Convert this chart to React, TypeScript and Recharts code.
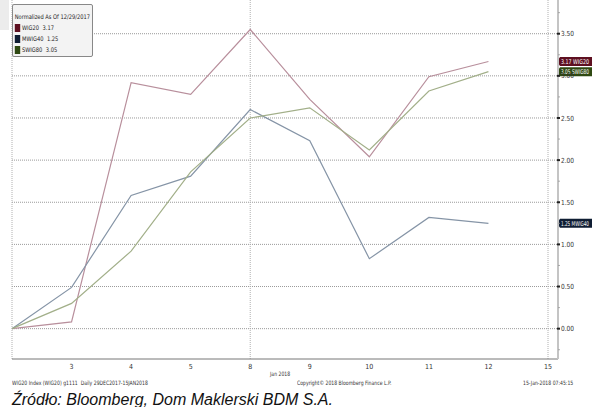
import { LineChart, Line, XAxis, YAxis, CartesianGrid, ReferenceLine } from 'recharts'

// trading days, first one is the base day 12/29/2017
const days = ['29', '3', '4', '5', '8', '9', '10', '11', '12', '15']
const series = ['WIG20', 'MWIG40', 'SWIG80']
const wig20 = [0, 0.08, 2.92, 2.78, 3.55, 2.72, 2.04, 2.99, 3.17, null]
const mwig40 = [0, 0.49, 1.58, 1.81, 2.6, 2.23, 0.83, 1.32, 1.25, null]
const swig80 = [0, 0.3, 0.92, 1.86, 2.5, 2.62, 2.12, 2.82, 3.05, null]
const lastValues = [3.17, 1.25, 3.05]
const yTicks = [-0.25, 0, 0.25, 0.5, 0.75, 1, 1.25, 1.5, 1.75, 2, 2.25, 2.5, 2.75, 3, 3.25, 3.5, 3.75]
const yMajor = [0, 0.5, 1, 1.5, 2, 2.5, 3, 3.5]
const weekLines = ['29', '8', '15']

const lineColors = ['#b88f9c', '#8594a6', '#a2af89']
const tagColors = ['#5e1021', '#0f1d33', '#2f4912']

const data = days.map((d, i) => ({
  day: d,
  WIG20: wig20[i],
  MWIG40: mwig40[i],
  SWIG80: swig80[i],
}))

const narrow = '"DejaVu Sans Condensed", "Liberation Sans Narrow", "Liberation Sans", sans-serif'

function XTick({ x, y, payload, index }: any) {
  if (index === 0) return null
  return (
    <text x={x} y={y + 10} textAnchor="middle" fontSize={7} fontFamily={narrow} fill="#333">
      {payload.value}
    </text>
  )
}

function YTick({ x, y, payload }: any) {
  const major = yMajor.includes(payload.value)
  if (!major) {
    return <line x1={x} x2={x + 2} y1={y} y2={y} stroke="#999" strokeWidth={0.8} />
  }
  return (
    <g>
      <rect x={x - 1} y={y - 1} width={3} height={2} fill="#222" />
      <text x={x + 3} y={y + 2.6} fontSize={7} fontFamily={narrow} fill="#333" textLength={13} lengthAdjust="spacingAndGlyphs">
        {payload.value.toFixed(2)}
      </text>
    </g>
  )
}

function ValueTag({ viewBox, text, color }: any) {
  const x0 = viewBox.x + viewBox.width - 1
  const y0 = viewBox.y
  const w = 35
  const h = 9
  return (
    <g>
      <path
        d={`M${x0},${y0} L${x0 + 3},${y0 - h / 2} L${x0 + w},${y0 - h / 2} L${x0 + w},${y0 + h / 2} L${x0 + 3},${y0 + h / 2} Z`}
        fill={color}
      />
      <text
        x={x0 + 4}
        y={y0 + 2.3}
        fontSize={6.5}
        fontFamily={narrow}
        fill="#fff"
        textLength={w - 7}
        lengthAdjust="spacingAndGlyphs"
      >
        {text}
      </text>
    </g>
  )
}

const small = { fontFamily: narrow, fontSize: 6, color: '#333', whiteSpace: 'pre' as const, transformOrigin: 'left top' }

export default function App() {
  return (
    <div style={{ position: 'absolute', left: 0, top: 0, width: 597, height: 407, background: '#fff', overflow: 'hidden' }}>
      <div style={{ position: 'absolute', left: 0, top: 0, width: 9, height: 30, background: '#ececec' }} />
      <LineChart width={597} height={407} data={data} margin={{ top: 0, right: 0, bottom: 28, left: 12 }}>
        <CartesianGrid vertical={false} horizontalValues={yMajor} stroke="#9a9a9a" strokeDasharray="1 1" />
        {weekLines.map((d) => (
          <ReferenceLine key={d} x={d} stroke="#b0b0b0" strokeDasharray="1 1" />
        ))}
        <XAxis
          dataKey="day"
          interval={0}
          padding={{ left: 0, right: 10 }}
          height={20}
          tickSize={0}
          tickMargin={0}
          tickLine={false}
          axisLine={{ stroke: '#777', strokeWidth: 1 }}
          tick={<XTick />}
        />
        <YAxis
          orientation="right"
          width={39}
          domain={[-0.36, 3.9]}
          allowDataOverflow
          ticks={yTicks}
          interval={0}
          tickSize={0}
          tickMargin={0}
          tickLine={false}
          axisLine={{ stroke: '#c4c4c4', strokeWidth: 2 }}
          tick={<YTick />}
        />
        {series.map((s, i) => (
          <Line
            key={s}
            type="linear"
            dataKey={s}
            stroke={lineColors[i]}
            strokeWidth={1.2}
            dot={false}
            activeDot={false}
            isAnimationActive={false}
          />
        ))}
        {series.map((s, i) => (
          <ReferenceLine
            key={'tag' + s}
            y={lastValues[i]}
            stroke="none"
            ifOverflow="visible"
            label={<ValueTag text={`${lastValues[i].toFixed(2)} ${s}`} color={tagColors[i]} />}
          />
        ))}
      </LineChart>

      <div
        style={{
          position: 'absolute',
          left: 12,
          top: 4,
          width: 81,
          height: 53,
          border: '1px solid #888',
          borderRadius: 2,
          background: '#f3f3f3',
          boxSizing: 'border-box',
          overflow: 'hidden',
        }}
      >
        <div
          style={{
            fontFamily: narrow,
            fontSize: 6.3,
            color: '#222',
            lineHeight: '11px',
            padding: '6px 0 0 2px',
            whiteSpace: 'nowrap',
            transform: 'scaleX(0.9)',
            transformOrigin: 'left top',
          }}
        >
          <div>Normalized As Of 12/29/2017</div>
          {series.map((s, i) => (
            <div key={s} style={{ display: 'flex', alignItems: 'center' }}>
              <span style={{ display: 'inline-block', width: 6, height: 8, background: tagColors[i], marginRight: 2 }} />
              <span style={{ marginRight: 4 }}>{s}</span>
              <span>{lastValues[i].toFixed(2)}</span>
            </div>
          ))}
        </div>
      </div>

      <div style={{ ...small, position: 'absolute', left: 270, top: 370, transform: 'scaleX(0.85)' }}>Jan 2018</div>
      <div style={{ ...small, position: 'absolute', left: 12, top: 379, transform: 'scaleX(0.85)' }}>
        {'WIG20 Index (WIG20) g1111  Daily 29DEC2017-15JAN2018'}
      </div>
      <div style={{ ...small, position: 'absolute', left: 297, top: 379, transform: 'scaleX(0.85)' }}>
        Copyright© 2018 Bloomberg Finance L.P.
      </div>
      <div style={{ ...small, position: 'absolute', left: 523, top: 379, transform: 'scaleX(0.85)' }}>
        15-Jan-2018 07:45:15
      </div>
      <div
        style={{
          position: 'absolute',
          left: 12,
          top: 391,
          fontFamily: '"Liberation Sans", Arial, sans-serif',
          fontStyle: 'italic',
          fontSize: 16,
          lineHeight: '18px',
          color: '#111',
          whiteSpace: 'nowrap',
        }}
      >
        Źródło: Bloomberg, Dom Maklerski BDM S.A.
      </div>
    </div>
  )
}
